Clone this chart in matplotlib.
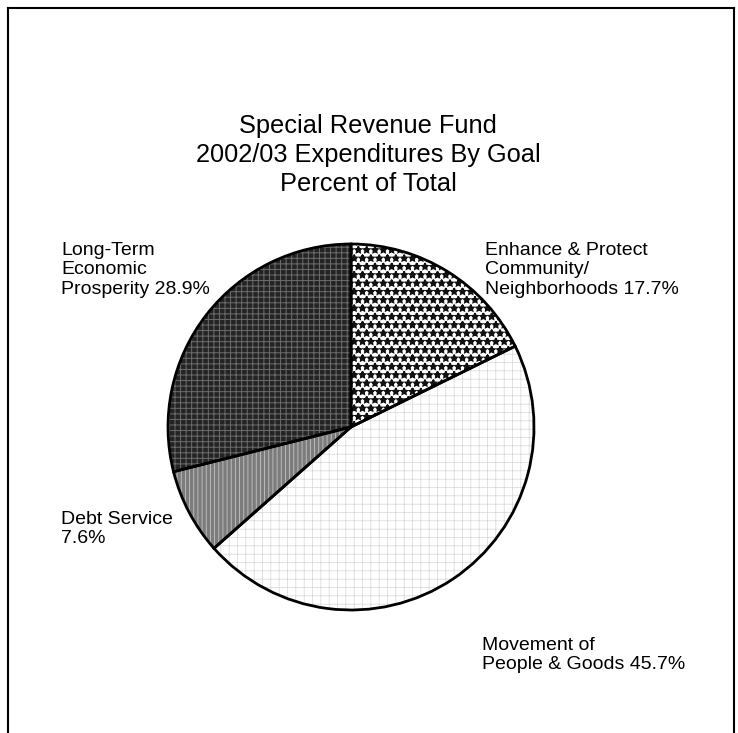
import matplotlib
matplotlib.use("Agg")
import matplotlib.pyplot as plt
from matplotlib.lines import Line2D

plt.rcParams['font.family'] = ['Liberation Sans', 'DejaVu Sans']

# ---- data ----
categories = ["Enhance & Protect\nCommunity/\nNeighborhoods", "Movement of\nPeople & Goods",
              "Debt Service", "Long-Term\nEconomic\nProsperity"]
values = [17.7, 45.7, 7.6, 28.9]
label_texts = ["Enhance & Protect\nCommunity/\nNeighborhoods 17.7%",
               "Movement of\nPeople & Goods 45.7%",
               "Debt Service\n7.6%",
               "Long-Term\nEconomic\nProsperity 28.9%"]
title_lines = "Special Revenue Fund\n2002/03 Expenditures By Goal\nPercent of Total"

# ---- styling ----
W, H = 738, 733
face_colors = ['#ffffff', '#ffffff', '#7c7c7c', '#242424']
hatches = ['**', '++', '||||', '+++']
hatch_colors = ['#111111', '#d6d6d6', '#c4c4c4', '#6c6c6c']
hatch_lws = [1.3, 0.5, 0.6, 0.7]

fig = plt.figure(figsize=(W / 100, H / 100), dpi=100)
ax = fig.add_axes([0, 0, 1, 1])

def Y(y):
    return H - y

cx, cy, r = 351, Y(427), 183

wedges, _ = ax.pie(values, startangle=90, counterclock=False, center=(cx, cy), radius=r,
                   colors=face_colors, wedgeprops=dict(linewidth=0))
for i in range(len(values)):
    plt.rcParams['hatch.linewidth'] = hatch_lws[i]
    ov, _ = ax.pie(values, startangle=90, counterclock=False, center=(cx, cy), radius=r,
                   wedgeprops=dict(linewidth=0, facecolor='none'))
    for j, w in enumerate(ov):
        if j == i:
            w.set_hatch(hatches[i])
            w.set_edgecolor(hatch_colors[i])
            w.set_linewidth(0)
        else:
            w.set_visible(False)
outl, _ = ax.pie(values, startangle=90, counterclock=False, center=(cx, cy), radius=r,
                 wedgeprops=dict(linewidth=2, edgecolor='black', facecolor='none'))

ax.set_xlim(0, W)
ax.set_ylim(0, H)
ax.set_aspect('equal')
ax.axis('off')

# frame
for (x0, y0, x1, y1) in [(8, 8, 8, H), (8, 8, 734, 8), (734, 8, 734, H)]:
    ax.add_line(Line2D([x0, x1], [Y(y0), Y(y1)], color='black', lw=1.5))

# title
ax.text(368, Y(155), title_lines, ha='center', va='center', fontsize=18.3,
        linespacing=1.25, color='black')

# labels
lab_pos = [(485, Y(270)), (482, Y(655)), (61, Y(529)), (61, Y(270))]
for t, (x, y) in zip(label_texts, lab_pos):
    ax.text(x, y, t, ha='left', va='center', fontsize=14, linespacing=1.2, color='black')

fig.savefig('out.png', dpi=100)
